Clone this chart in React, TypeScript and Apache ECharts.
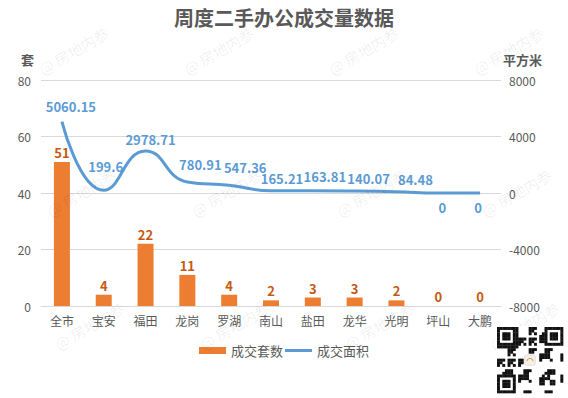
import React, { useEffect, useRef } from "react";
import * as echarts from "echarts";

const categories = ["全市", "宝安", "福田", "龙岗", "罗湖", "南山", "盐田", "龙华", "光明", "坪山", "大鹏"];
const dealCounts = [51, 4, 22, 11, 4, 2, 3, 3, 2, 0, 0];
const dealAreas = [5060.15, 199.6, 2978.71, 780.91, 547.36, 165.21, 163.81, 140.07, 84.48, 0, 0];
const leftTicks = { min: 0, max: 80, interval: 20 };
const rightTicks = { min: -8000, max: 8000, interval: 4000 };

// label placement tweaks (style only) for the area labels, in pixels
const areaLabelDx = [9, 2, 5, 13, 16, 11, 12, 14, 19, 4, -2];
const areaLabelDy = [-4, -12, 0, -6, -6, -1, -3, -1, -1, 3, 3];

function qrModules(): any[] {
  const n = 25;
  const size = 66;
  const ox = 497;
  const oy = 327;
  const m = size / n;
  const els: any[] = [];
  els.push({ type: "rect", shape: { x: ox - 1, y: oy - 1, width: size + 2, height: size + 2 }, style: { fill: "#fff" }, z: 100 });
  const inFinder = (i: number, j: number) => {
    const f = (a: number, b: number) => i >= a && i < a + 7 && j >= b && j < b + 7;
    return f(0, 0) || f(0, n - 7) || f(n - 7, 0);
  };
  const finderOn = (i: number, j: number) => {
    const li = i >= n - 7 ? i - (n - 7) : i;
    const lj = j >= n - 7 ? j - (n - 7) : j;
    if (li === 0 || li === 6 || lj === 0 || lj === 6) return true;
    if (li >= 2 && li <= 4 && lj >= 2 && lj <= 4) return true;
    return false;
  };
  for (let i = 0; i < n; i++) {
    for (let j = 0; j < n; j++) {
      let on: boolean;
      if (inFinder(i, j)) on = finderOn(i, j);
      else if (i >= 10 && i <= 14 && j >= 10 && j <= 14) on = false;
      else on = ((i * 31 + j * 17 + i * j * 7 + ((i ^ j) * 3)) % 7) < 3;
      if (on) {
        els.push({ type: "rect", shape: { x: ox + j * m, y: oy + i * m, width: m + 0.3, height: m + 0.3 }, style: { fill: "#111" }, z: 101 });
      }
    }
  }
  els.push({ type: "rect", shape: { x: ox + 10.5 * m, y: oy + 10.5 * m, width: 4 * m, height: 4 * m, r: 2 }, style: { fill: "#f4f0ea", stroke: "#ccc", lineWidth: 0.5 }, z: 102 });
  els.push({ type: "arc", shape: { cx: ox + 12.5 * m, cy: oy + 13 * m, r: 3, startAngle: Math.PI, endAngle: 2 * Math.PI }, style: { stroke: "#e0a040", fill: "none", lineWidth: 1 }, z: 103 });
  return els;
}

function watermarks(): any[] {
  const els: any[] = [];
  const rows = [70, 212, 345];
  const cols = [40, 185, 330, 475];
  rows.forEach((y, ri) => {
    cols.forEach((x) => {
      els.push({
        type: "text",
        x: x + ri * 8,
        y: y,
        rotation: Math.PI / 6,
        style: {
          text: "@ 房地内参",
          fill: "rgba(0,0,0,0.07)",
          font: "15px 'Noto Sans CJK SC', sans-serif",
          align: "left",
          verticalAlign: "middle",
        },
        z: 50,
        silent: true,
      });
    });
  });
  return els;
}

export default function App() {
  const ref = useRef<HTMLDivElement>(null);
  useEffect(() => {
    if (!ref.current) return;
    const chart = echarts.init(ref.current, undefined, { renderer: "svg" });
    const font = "'Noto Sans CJK SC', 'Microsoft YaHei', sans-serif";
    chart.setOption({
      animation: false,
      backgroundColor: "#fff",
      textStyle: { fontFamily: font },
      title: {
        text: "周度二手办公成交量数据",
        left: "center",
        top: 7,
        padding: 0,
        textStyle: { fontSize: 20, fontWeight: "bold", color: "#595959", fontFamily: font },
      },
      legend: {
        bottom: 36,
        left: "center",
        itemWidth: 27,
        itemHeight: 7,
        itemGap: 2,
        textStyle: { color: "#595959", fontSize: 13, fontFamily: font },
        data: [
          { name: "成交套数", icon: "rect" },
          { name: "成交面积", icon: "path://M0 0H27V3H0Z" },
        ],
      },
      grid: { left: 41, right: 67, top: 80, bottom: 92 },
      xAxis: {
        type: "category",
        data: categories,
        axisTick: { show: false },
        axisLine: { lineStyle: { color: "#D9D9D9" } },
        axisLabel: { color: "#595959", fontSize: 12, margin: 8, interval: 0 },
      },
      yAxis: [
        {
          type: "value",
          name: "套",
          nameLocation: "end",
          nameGap: 14,
          nameTextStyle: { color: "#595959", fontSize: 13, fontWeight: "bold", align: "right", padding: [0, 7, 0, 0] },
          min: leftTicks.min,
          max: leftTicks.max,
          interval: leftTicks.interval,
          axisLabel: { color: "#595959", fontSize: 12, margin: 10 },
          splitLine: { lineStyle: { color: "#D9D9D9" } },
          axisLine: { show: false },
          axisTick: { show: false },
        },
        {
          type: "value",
          name: "平方米",
          nameLocation: "end",
          nameGap: 14,
          nameTextStyle: { color: "#595959", fontSize: 13, fontWeight: "bold", align: "left", padding: [0, 0, 0, 2] },
          min: rightTicks.min,
          max: rightTicks.max,
          interval: rightTicks.interval,
          axisLabel: { color: "#595959", fontSize: 12, margin: 8, formatter: (v: number) => String(v) },
          splitLine: { show: false },
          axisLine: { show: false },
          axisTick: { show: false },
        },
      ],
      series: [
        {
          name: "成交套数",
          type: "bar",
          yAxisIndex: 0,
          data: dealCounts,
          barWidth: 16,
          itemStyle: { color: "#ED7D31" },
          label: { show: true, position: "top", color: "#C65911", fontSize: 13, fontWeight: "bold", distance: 3 },
          z: 2,
        },
        {
          name: "成交面积",
          type: "line",
          yAxisIndex: 1,
          data: dealAreas,
          smooth: 0.5,
          symbol: "none",
          lineStyle: { color: "#5B9BD5", width: 3 },
          itemStyle: { color: "#5B9BD5" },
          z: 3,
        },
        {
          name: "面积标签",
          type: "line",
          yAxisIndex: 1,
          data: dealAreas.map((v, i) => ({
            value: v,
            label: {
              position: i >= 9 ? "bottom" : "top",
              offset: [areaLabelDx[i], areaLabelDy[i]],
            },
          })),
          symbol: "circle",
          symbolSize: 2,
          itemStyle: { color: "rgba(0,0,0,0)" },
          lineStyle: { width: 0, opacity: 0 },
          label: { show: true, position: "top", color: "#5B9BD5", fontSize: 13, fontWeight: "bold", distance: 4 },
          z: 4,
          silent: true,
        },
      ],
      graphic: [...watermarks(), ...qrModules()],
    });
    return () => chart.dispose();
  }, []);
  return <div ref={ref} style={{ position: "absolute", left: 0, top: 0, width: 568, height: 398 }} />;
}
